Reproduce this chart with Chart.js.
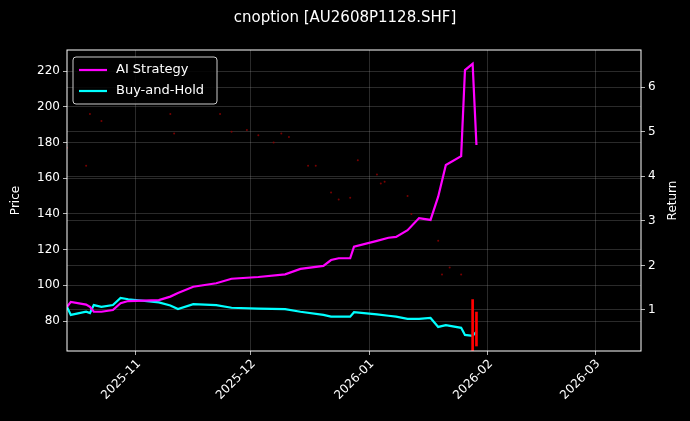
<!DOCTYPE html>
<html>
<head>
<meta charset="utf-8">
<script src="https://cdn.jsdelivr.net/npm/chart.js@4"></script>
<style>
  body { margin: 0; background: #000; }
  #wrap { width: 690px; height: 421px; }
</style>
</head>
<body>
<div id="wrap"><canvas id="c"></canvas></div>
<script>
// data
const dates = ['2025-10-14','2025-10-15','2025-10-19','2025-10-20','2025-10-21','2025-10-23','2025-10-26','2025-10-28','2025-10-30',
  '2025-11-07','2025-11-10','2025-11-12','2025-11-16','2025-11-22','2025-11-26','2025-12-03','2025-12-10','2025-12-14',
  '2025-12-20','2025-12-22','2025-12-24','2025-12-27','2025-12-28','2026-01-03','2026-01-06','2026-01-08','2026-01-11',
  '2026-01-14','2026-01-17','2026-01-19','2026-01-21','2026-01-25','2026-01-26','2026-01-28','2026-01-29'];
const aiStrategy = [1.07,1.18,1.12,1.07,0.96,0.96,1.00,1.15,1.20,1.22,1.30,1.38,1.52,1.60,1.70,1.74,1.80,1.92,
  1.99,2.12,2.16,2.16,2.42,2.55,2.62,2.64,2.79,3.06,3.02,3.54,4.25,4.45,6.38,6.52,4.70];
const buyHold = [1.07,0.89,0.96,0.93,1.11,1.07,1.11,1.27,1.24,1.17,1.10,1.02,1.13,1.11,1.05,1.03,1.02,0.96,
  0.89,0.85,0.85,0.85,0.95,0.90,0.87,0.85,0.80,0.80,0.82,0.62,0.66,0.60,0.44,0.42,0.51];

const priceDates = ['2025-10-14','2025-10-19','2025-10-20','2025-10-23','2025-11-10','2025-11-11','2025-11-23','2025-11-26',
  '2025-11-30','2025-12-03','2025-12-07','2025-12-09','2025-12-11','2025-12-16','2025-12-18','2025-12-22','2025-12-24',
  '2025-12-27','2025-12-29','2026-01-03','2026-01-04','2026-01-05','2026-01-11','2026-01-12','2026-01-19','2026-01-20',
  '2026-01-22','2026-01-25'];
const prices = [177,167,196,192,196,185,196,186,187,184,180,185,183,167,167,152,148,149,170,162,157,158,150,140,125,106,110,106];

const candleDates = ['2026-01-28','2026-01-29'];
const candleLow = [63,66];
const candleHigh = [92,85];

const tickDates = ['2025-11-01','2025-12-01','2026-01-01','2026-02-01','2026-03-01'];
const tickLabels = ['2025-11','2025-12','2026-01','2026-02','2026-03'];
const priceTicks = [80,100,120,140,160,180,200,220];
const returnTicks = [1,2,3,4,5,6];

function dayNum(s) {
    const p = s.split('-');
    return Date.UTC(+p[0], +p[1] - 1, +p[2]) / 86400000;
}
const xMin = dayNum('2025-10-14');
const xMax = dayNum('2026-03-13');
const tickDays = tickDates.map(dayNum);

Chart.defaults.font.family = 'DejaVu Sans';
Chart.defaults.font.size = 12;
Chart.defaults.color = '#fff';

const gridStyle = { color: 'rgba(150,150,150,0.4)', lineWidth: 0.7, borderDash: [3, 3], drawTicks: true, tickLength: 4, tickColor: '#fff', offset: false };

const frame = {
    id: 'frame',
    beforeDraw(chart) {
        const ctx = chart.ctx;
        ctx.save();
        ctx.fillStyle = '#000';
        ctx.fillRect(0, 0, chart.width, chart.height);
        ctx.restore();
    },
    afterDraw(chart) {
        const ctx = chart.ctx, a = chart.chartArea;
        ctx.save();
        ctx.strokeStyle = '#fff';
        ctx.lineWidth = 1;
        ctx.strokeRect(a.left, a.top, a.right - a.left, a.bottom - a.top);
        ctx.fillStyle = '#fff';
        ctx.font = '15px DejaVu Sans';
        ctx.textAlign = 'center';
        ctx.fillText('cnoption [AU2608P1128.SHF]', chart.width / 2, 22);

        // x tick labels, rotated and right-aligned to the tick
        ctx.font = '12px DejaVu Sans';
        ctx.textAlign = 'right';
        ctx.textBaseline = 'middle';
        tickDays.forEach(function (d, i) {
            const x = chart.scales.x.getPixelForValue(d);
            ctx.save();
            ctx.translate(x + 3, a.bottom + 11);
            ctx.rotate(-Math.PI / 4);
            ctx.fillText(tickLabels[i], 0, 0);
            ctx.restore();
        });

        // axis titles
        ctx.textAlign = 'center';
        [['Price', 16], ['Return', 673]].forEach(function (t) {
            ctx.save();
            ctx.translate(t[1], (a.top + a.bottom) / 2);
            ctx.rotate(-Math.PI / 2);
            ctx.fillText(t[0], 0, 0);
            ctx.restore();
        });

        // legend
        const lx = a.left + 6, ly = a.top + 7;
        ctx.fillStyle = 'rgba(0,0,0,0.85)';
        ctx.strokeStyle = '#ccc';
        ctx.lineWidth = 1;
        ctx.beginPath();
        ctx.roundRect(lx, ly, 144, 47, 3);
        ctx.fill(); ctx.stroke();
        ctx.font = '13px DejaVu Sans';
        ctx.textAlign = 'left';
        [['AI Strategy', '#ff00ff'], ['Buy-and-Hold', '#00ffff']].forEach(function (it, i) {
            const yy = ly + 13 + i * 21;
            ctx.strokeStyle = it[1];
            ctx.lineWidth = 2.2;
            ctx.beginPath(); ctx.moveTo(lx + 6, yy); ctx.lineTo(lx + 34, yy); ctx.stroke();
            ctx.fillStyle = '#fff';
            ctx.fillText(it[0], lx + 43, yy);
        });
        ctx.restore();
    }
};

new Chart(document.getElementById('c'), {
    data: {
        datasets: [{
            type: 'scatter',
            data: priceDates.map((d, i) => ({ x: dayNum(d), y: prices[i] })),
            yAxisID: 'y',
            pointRadius: 1,
            pointBackgroundColor: 'rgba(150,0,0,0.8)',
            pointBorderWidth: 0
        }, {
            type: 'bar',
            data: candleDates.map((d, i) => ({ x: dayNum(d), y: [candleLow[i], candleHigh[i]] })),
            yAxisID: 'y',
            backgroundColor: '#ff0000',
            barThickness: 2
        }, {
            type: 'line',
            label: 'AI Strategy',
            data: dates.map((d, i) => ({ x: dayNum(d), y: aiStrategy[i] })),
            yAxisID: 'y1',
            borderColor: '#ff00ff',
            borderWidth: 2.2,
            pointRadius: 0,
            tension: 0
        }, {
            type: 'line',
            label: 'Buy-and-Hold',
            data: dates.map((d, i) => ({ x: dayNum(d), y: buyHold[i] })),
            yAxisID: 'y1',
            borderColor: '#00ffff',
            borderWidth: 2.2,
            pointRadius: 0,
            tension: 0
        }]
    },
    options: {
        responsive: true,
        maintainAspectRatio: false,
        animation: false,
        layout: { padding: { top: 50, left: 0, right: 0, bottom: 0 } },
        plugins: { legend: { display: false }, tooltip: { enabled: false } },
        scales: {
            x: {
                type: 'linear',
                min: xMin, max: xMax,
                offset: false,
                grid: gridStyle,
                border: { display: false },
                afterBuildTicks(axis) { axis.ticks = tickDays.map(v => ({ value: v })); },
                afterFit(axis) { axis.height = 70; },
                ticks: { display: false }
            },
            y: {
                position: 'left',
                min: 63.2, max: 231.8,
                grid: gridStyle,
                border: { display: false },
                afterBuildTicks(axis) { axis.ticks = priceTicks.map(v => ({ value: v })); },
                afterFit(axis) { axis.width = 67; }
            },
            y1: {
                position: 'right',
                min: 0.08, max: 6.83,
                grid: gridStyle,
                border: { display: false },
                afterBuildTicks(axis) { axis.ticks = returnTicks.map(v => ({ value: v })); },
                afterFit(axis) { axis.width = 49; }
            }
        }
    },
    plugins: [frame]
});
</script>
</body>
</html>
